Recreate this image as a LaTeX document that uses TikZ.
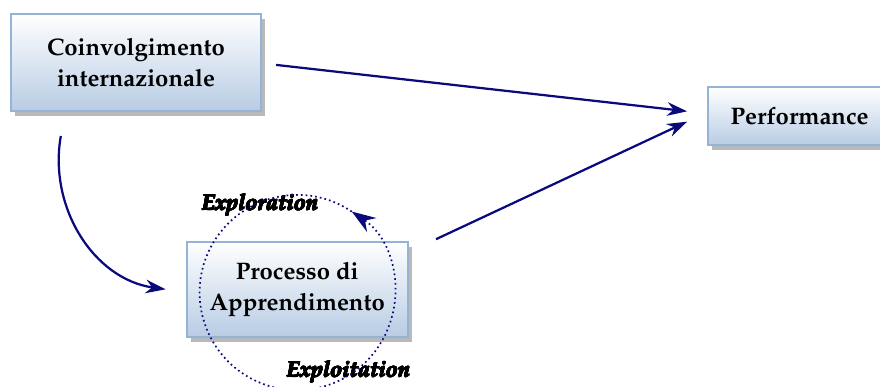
\documentclass[tikz,border=0pt]{standalone}
\usepackage[T1]{fontenc}
\usepackage{mathpazo}
\usepackage[copies]{contour}
\contourlength{0.4pt}
\usepackage{tikz}
\usetikzlibrary{calc}
\usetikzlibrary{positioning, shadows, arrows.meta}
\definecolor{arrblue}{RGB}{10,10,125}
\definecolor{boxedge}{RGB}{149,179,215}
\definecolor{boxfill}{RGB}{184,204,228}
\tikzstyle{process} = [rectangle, draw=boxedge, line width=1.4pt, top color=white, bottom color=boxfill, text centered, align=center, font=\fontsize{17}{22.5}\selectfont\fontseries{b}\selectfont, drop shadow={shadow xshift=0.1cm, shadow yshift=-0.12cm, fill=gray!55, opacity=1}]
\tikzstyle{phase} = [font=\fontsize{15.5}{18}\selectfont\fontseries{b}\fontshape{it}\selectfont]
\tikzstyle{arrow} = [draw=arrblue, line width=1.6pt, -{Stealth[length=5mm, width=3.4mm, inset=1.6mm]}]
\tikzstyle{loop} = [draw=arrblue, line width=1.2pt, dash pattern=on 1.2pt off 2.2pt, -{Stealth[length=6mm, width=4.2mm, inset=2mm]}]

\begin{document}
\begin{tikzpicture}[node distance=1cm]
\useasboundingbox (0,0) rectangle (22,-9.675);

\node (coinpros) [process, minimum width=6.25cm, minimum height=2.425cm] at (3.4,-1.5625) {Coinvolgimento\\internazionale};
\node (apprpros) [process, below of=coinpros, xshift=4.03cm, yshift=-4.67cm, minimum width=5.53cm, minimum height=2.375cm] {Processo di\\Apprendimento};
\node (perfpros) [process, right of=coinpros, xshift=15.59cm, yshift=-1.34cm, minimum width=4.575cm, minimum height=1.45cm] {Performance};

\node (exptext) [phase, above of=apprpros, xshift=-0.93cm, yshift=1.1cm] {\contour{black}{Exploration}};
\node (exltext) [phase, below of=apprpros, xshift=1.28cm, yshift=-1.07cm] {\contour{black}{Exploitation}};

\draw [arrow] ($(coinpros.east)+(0.35,-0.06)$) -- ($(perfpros.west)+(-0.5,0.12)$);
\draw [arrow] ($(apprpros.north east)+(0.68,0.04)$) -- ($(perfpros.west)+(-0.5,-0.14)$);
\draw [arrow] ($(coinpros.south west)+(1.27,-0.6)$) to[out=-100, in=172] ($(apprpros.west)+(-0.5,0)$);

% learning cycle round the process box
\draw [loop] ($(apprpros.center)+(0,-0.08)$) ++(56:2.44) arc[start angle=-304, end angle=56, radius=2.44];
\end{tikzpicture}
\end{document}
